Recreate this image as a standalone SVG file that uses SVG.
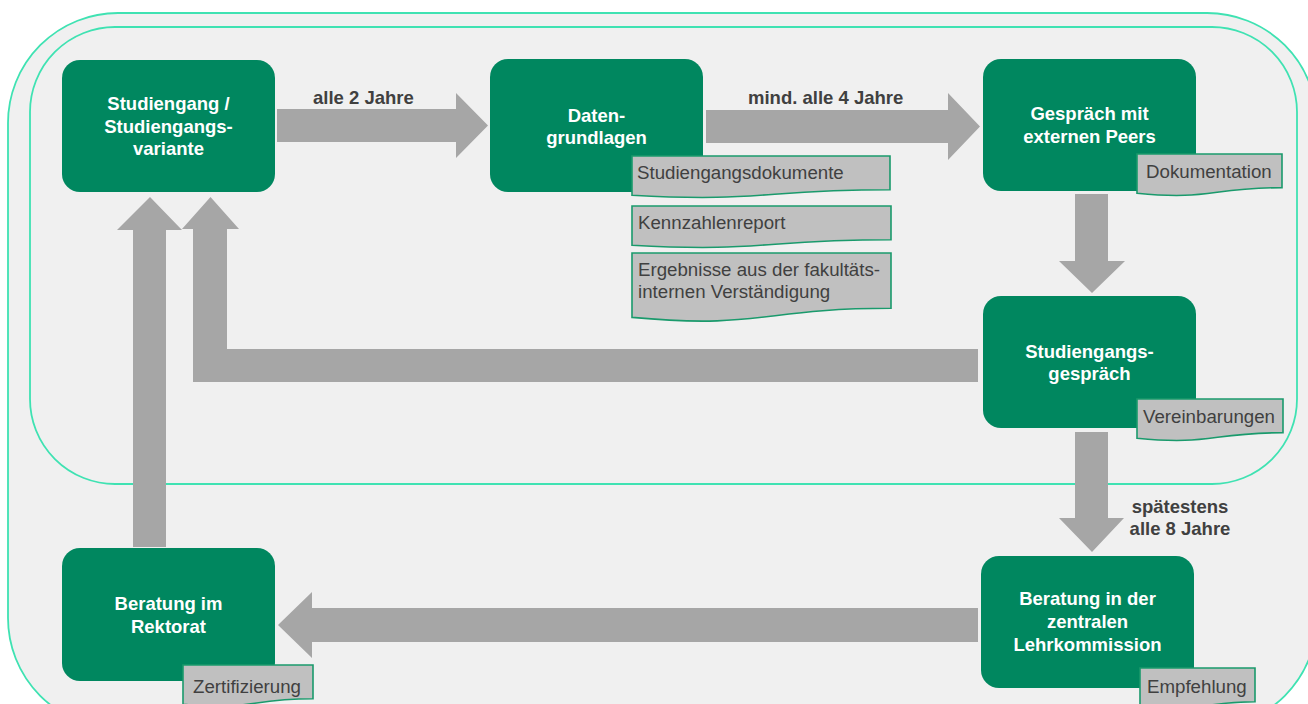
<svg xmlns="http://www.w3.org/2000/svg" width="1308" height="704" viewBox="0 0 1308 704">
<style>
.frame{fill:#f0f0f0;stroke:#3fe2b2;stroke-width:1.8}
.node{fill:#00875f}
.nt{font-family:"Liberation Sans",Arial,sans-serif;font-weight:bold;font-size:18.5px;fill:#ffffff;text-anchor:middle}
.doc{fill:#c0c0c0;stroke:#1a9a6c;stroke-width:1.6}
.dt{font-family:"Liberation Sans",Arial,sans-serif;font-size:18.7px;fill:#404040}
.lbl{font-family:"Liberation Sans",Arial,sans-serif;font-weight:bold;font-size:18.5px;fill:#404040}
.arr{fill:#a6a6a6}
</style>
<rect width="1308" height="704" fill="#ffffff"/>
<rect class="frame" x="8" y="13" width="1309" height="715" rx="110"/>
<rect class="frame" x="30" y="27" width="1267" height="457" rx="85"/>

<g id="connectors">
<polygon class="arr" points="277,109 456,109 456,93 488,125.5 456,158 456,142 277,142"/>
<polygon class="arr" points="706,110 948,110 948,93 980,126.5 948,160 948,143 706,143"/>
<polygon class="arr" points="1075,194 1108,194 1108,261 1125,261 1092,293 1059,261 1075,261"/>
<polygon class="arr" points="1075,432 1108,432 1108,518 1124,518 1092,552 1059,518 1075,518"/>
<polygon class="arr" points="978,608 312,608 312,592 278,625 312,658 312,642 978,642"/>
<polygon class="arr" points="133,547 133,230 117,230 150,197 182,230 166,230 166,547"/>
<polygon class="arr" points="978,349 978,382 193,382 193,229 182,229 210.5,197 239,229 227,229 227,349"/>
<text class="lbl" x="313" y="104">alle 2 Jahre</text>
<text class="lbl" x="748" y="104">mind. alle 4 Jahre</text>
<text class="lbl" x="1180" y="513" text-anchor="middle">spätestens</text>
<text class="lbl" x="1180" y="535" text-anchor="middle">alle 8 Jahre</text>
</g>

<g id="node-studiengang">
<rect class="node" x="62" y="60" width="213" height="132" rx="18"/>
<text class="nt" x="168.5" y="110">Studiengang /</text>
<text class="nt" x="168.5" y="133">Studiengangs-</text>
<text class="nt" x="168.5" y="155">variante</text>
</g>

<g id="node-datengrundlagen">
<rect class="node" x="490" y="59" width="213" height="133" rx="18"/>
<text class="nt" x="596.5" y="122">Daten-</text>
<text class="nt" x="596.5" y="144">grundlagen</text>
</g>

<g id="doc-studiengangsdokumente">
<path class="doc" d="M632,156 H890 V189.7 C761,189.7 761,202.5 632,195.2 Z"/>
<text class="dt" x="637" y="179">Studiengangsdokumente</text>
</g>
<g id="doc-kennzahlenreport">
<path class="doc" d="M632,206 H891 V239.7 C761.5,239.7 761.5,252.5 632,245.2 Z"/>
<text class="dt" x="638" y="229">Kennzahlenreport</text>
</g>
<g id="doc-ergebnisse">
<path class="doc" d="M632,253 H891 V308.3 C761.5,308.3 761.5,329.4 632,317.4 Z"/>
<text class="dt" x="638" y="276">Ergebnisse aus der fakultäts-</text>
<text class="dt" x="638" y="298">internen Verständigung</text>
</g>

<g id="node-peers">
<rect class="node" x="983" y="59" width="213" height="132" rx="18"/>
<text class="nt" x="1089.5" y="120">Gespräch mit</text>
<text class="nt" x="1089.5" y="143">externen Peers</text>
</g>
<g id="doc-dokumentation">
<path class="doc" d="M1137,154 H1282 V187.7 C1209.5,187.7 1209.5,200.5 1137,193.2 Z"/>
<text class="dt" x="1146" y="178">Dokumentation</text>
</g>

<g id="node-studiengangsgespraech">
<rect class="node" x="983" y="296" width="213" height="132" rx="18"/>
<text class="nt" x="1089.5" y="358">Studiengangs-</text>
<text class="nt" x="1089.5" y="380">gespräch</text>
</g>
<g id="doc-vereinbarungen">
<path class="doc" d="M1137,399 H1283 V432.7 C1210,432.7 1210,445.5 1137,438.2 Z"/>
<text class="dt" x="1143" y="423">Vereinbarungen</text>
</g>

<g id="node-lehrkommission">
<rect class="node" x="981" y="556" width="213" height="132" rx="18"/>
<text class="nt" x="1087.5" y="605">Beratung in der</text>
<text class="nt" x="1087.5" y="628">zentralen</text>
<text class="nt" x="1087.5" y="651">Lehrkommission</text>
</g>
<g id="doc-empfehlung">
<path class="doc" d="M1140,668 H1255 V701.7 C1197.5,701.7 1197.5,714.5 1140,707.2 Z"/>
<text class="dt" x="1147" y="693">Empfehlung</text>
</g>

<g id="node-rektorat">
<rect class="node" x="62" y="548" width="213" height="133" rx="18"/>
<text class="nt" x="168.5" y="610">Beratung im</text>
<text class="nt" x="168.5" y="633">Rektorat</text>
</g>
<g id="doc-zertifizierung">
<path class="doc" d="M183,665 H313 V698.7 C248,698.7 248,711.5 183,704.2 Z"/>
<text class="dt" x="193" y="693">Zertifizierung</text>
</g>
</svg>
